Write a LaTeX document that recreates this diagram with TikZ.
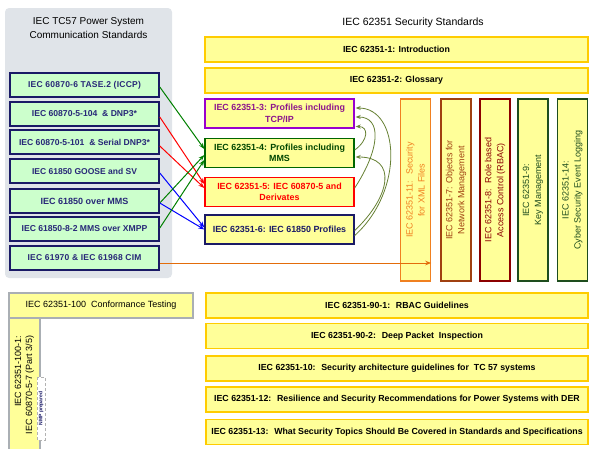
\documentclass[tikz,border=0pt]{standalone}
\usepackage{fontspec}
\setmainfont{Liberation Sans}
\newfontfamily\lsfont[LetterSpace=3]{Liberation Sans}
\usetikzlibrary{arrows.meta,calc}
\definecolor{yfill}{RGB}{255,255,153}
\definecolor{yborder}{RGB}{255,204,0}
\definecolor{gfill}{RGB}{204,255,204}
\definecolor{navy}{RGB}{26,26,102}
\definecolor{navytext}{RGB}{40,40,120}
\definecolor{panelgray}{RGB}{224,228,233}
\definecolor{purp}{RGB}{153,0,204}
\definecolor{purptext}{RGB}{140,20,140}
\definecolor{dgreen}{RGB}{0,102,0}
\definecolor{dgreentext}{RGB}{0,70,0}
\definecolor{orng}{RGB}{240,128,32}
\definecolor{brwn}{RGB}{160,64,16}
\definecolor{dred}{RGB}{140,0,0}
\definecolor{vdgreen}{RGB}{30,77,30}
\definecolor{olivearr}{RGB}{102,128,51}
\definecolor{arrgreen}{RGB}{0,128,0}
\definecolor{arrorange}{RGB}{227,108,10}
\definecolor{grayborder}{RGB}{170,175,180}
\tikzset{
  ybox/.style={draw=yborder, line width=1.5pt, fill=yfill, align=center, inner sep=0pt,
    font=\fontsize{8.8}{10}\selectfont\bfseries},
  lbox/.style={draw=navy, line width=1.6pt, fill=gfill, text=navytext, align=center, inner sep=0pt,
    minimum width=149pt, minimum height=24pt, font=\fontsize{8.6}{10}\selectfont\bfseries},
  mbox/.style={line width=1.4pt, fill=yfill, align=center, inner sep=0pt,
    minimum width=149pt, minimum height=29pt, font=\fontsize{8.9}{11.5}\selectfont\bfseries},
  vbox/.style={line width=1.4pt, fill=yfill, align=center, inner sep=0pt, rotate=90,
    minimum width=182pt, minimum height=30pt, font=\fontsize{9}{12}\selectfont},
  gbox/.style={draw=grayborder, line width=1.2pt, fill=yfill, align=center, inner sep=0pt,
    font=\fontsize{9}{11}\selectfont},
  arr/.style={-{Stealth[length=6pt,width=4.5pt]}, line width=1pt},
  oarr/.style={-{Stealth[length=5pt,width=4pt]}, line width=0.8pt, draw=olivearr},
}
\begin{document}
\begin{tikzpicture}[x=1pt,y=-1pt]
\useasboundingbox (0,0) rectangle (589,448);
% left panel
\fill[panelgray, rounded corners=4pt] (5,8) rectangle (172,278);
\node[align=center, font=\fontsize{10}{14}\selectfont] (ltitle) at (88.5,28) {IEC TC57 Power System\\Communication Standards};
\node[align=center, font=\fontsize{10.5}{12}\selectfont] (rtitle) at (413,23) {IEC 62351 Security Standards};
% left boxes
\node[lbox, font=\fontsize{8.5}{10}\lsfont\bfseries] (tase) at (84.5,85) {IEC 60870-6 TASE.2 (ICCP)};
\node[lbox] (i104) at (84.5,114) {IEC 60870-5-104 \ \& DNP3*};
\node[lbox] (i101) at (84.5,142) {IEC 60870-5-101 \ \& Serial DNP3*};
\node[lbox, font=\fontsize{8.5}{10}\selectfont\bfseries] (goose) at (84.5,171) {IEC 61850 GOOSE and SV};
\node[lbox, font=\fontsize{9}{10}\selectfont\bfseries] (mms) at (84.5,201) {IEC 61850 over MMS};
\node[lbox] (xmpp) at (84.5,229) {IEC 61850-8-2 MMS over XMPP};
\node[lbox, font=\fontsize{8.5}{10}\lsfont\bfseries] (cim) at (84.5,258) {IEC 61970 \& IEC 61968 CIM};
% top wide boxes
\node[ybox, minimum width=383pt, minimum height=25pt] (intro) at (396.5,49.5) {IEC 62351-1: Introduction};
\node[ybox, minimum width=383pt, minimum height=25pt] (gloss) at (396.5,80.5) {IEC 62351-2: Glossary};
% middle boxes
\node[mbox, draw=purp, text=purptext] (b3) at (279.5,113.5) {IEC 62351-3: Profiles including\\TCP/IP};
\node[mbox, draw=dgreen, text=dgreentext] (b4) at (279.5,153) {IEC 62351-4: Profiles including\\MMS};
\node[mbox, draw=red, text=red] (b5) at (279.5,192) {IEC 62351-5: IEC 60870-5 and\\Derivates};
\node[mbox, draw=navy, text=navy] (b6) at (279.5,229.5) {IEC 62351-6: IEC 61850 Profiles};
% vertical boxes
\node[vbox, draw=orng, text=orng] (b11) at (415.5,190) {IEC 62351-11: \ Security\\for XML Files};
\node[vbox, draw=brwn, text=brwn] (b7) at (456,190) {IEC 62351-7: Objects for\\Network Management};
\node[vbox, draw=dred, text=dred] (b8) at (495,190) {IEC 62351-8: \ Role based\\Access Control (RBAC)};
\node[vbox, draw=vdgreen, text=vdgreen] (b9) at (533,190) {IEC 62351-9:\\Key Management};
\node[vbox, draw=vdgreen, text=vdgreen] (b14) at (572.5,190) {IEC 62351-14:\\Cyber Security Event Logging};
% bottom left
\node[gbox, minimum width=184pt, minimum height=25pt] (conf) at (101,305.5) {IEC 62351-100 \ Conformance Testing};
\node[gbox, rotate=90, align=right, minimum width=134pt, minimum height=31pt] (c1001) at (24.5,385) {IEC 62351-100-1:\\IEC 60870-5-7 (Part 3/5)};
\node[draw=gray!60, densely dashed, line width=0.5pt, fill=white, rotate=90, minimum width=63pt, minimum height=8pt, inner sep=0pt,
  text=navy, font=\fontsize{5}{5}\selectfont\bfseries] (nmp) at (41,408.5) {NMP prepared};
% bottom wide boxes
\node[ybox, minimum width=382pt, minimum height=25pt] (b901) at (397,305.5) {IEC 62351-90-1: \ RBAC Guidelines};
\node[ybox, minimum width=382pt, minimum height=25pt] (b902) at (397,336) {IEC 62351-90-2: \ Deep Packet \ Inspection};
\node[ybox, minimum width=382pt, minimum height=25pt] (b10) at (397,368.5) {IEC 62351-10: \ Security architecture guidelines for \ TC 57 systems};
\node[ybox, minimum width=382pt, minimum height=25pt] (b12) at (397,399.5) {IEC 62351-12: \ Resilience and Security Recommendations for Power Systems with DER};
\node[ybox, minimum width=382pt, minimum height=25pt] (b13) at (397,432) {IEC 62351-13: \ What Security Topics Should Be Covered in Standards and Specifications};
% straight arrows
\draw[arr, arrgreen] ($(tase.east)+(0,2)$) -- ($(b4.west)+(0,-4)$);
\draw[arr, red] ($(i104.east)+(0,3)$) -- ($(b5.west)+(0,-8)$);
\draw[arr, red] ($(i101.east)+(0,4)$) -- ($(b5.west)+(0,-4)$);
\draw[arr, blue] ($(goose.east)+(0,2)$) -- ($(b6.west)+(0,-2)$);
\draw[arr, arrgreen] ($(mms.east)+(0,2)$) -- ($(b4.west)+(0,2)$);
\draw[arr, blue] ($(mms.east)+(0,2)$) -- ($(b6.west)+(0,0)$);
\draw[arr, arrgreen] ($(xmpp.east)+(0,-1)$) -- ($(b4.west)+(0,7)$);
\draw[arr, arrorange] ($(cim.east)+(0,5)$) -- ($(b11.south)+(0,73)$);
% curved arrows
\draw[oarr] ($(b6.east)+(0,6)$) .. controls +(50,-45) and +(44,0) .. ($(b3.east)+(1,-5.5)$);
\draw[oarr] ($(b5.east)+(0,-4)$) .. controls +(26,-40) and +(26,0) .. ($(b3.east)+(1,3.5)$);
\draw[oarr] ($(b4.east)+(0,-3)$) .. controls +(14,-10) and +(13,0) .. ($(b3.east)+(1,13)$);
\draw[oarr] ($(b6.east)+(0,1)$) .. controls +(36,-34) and +(42,0) .. ($(b4.east)+(1,4)$);
\end{tikzpicture}
\end{document}
